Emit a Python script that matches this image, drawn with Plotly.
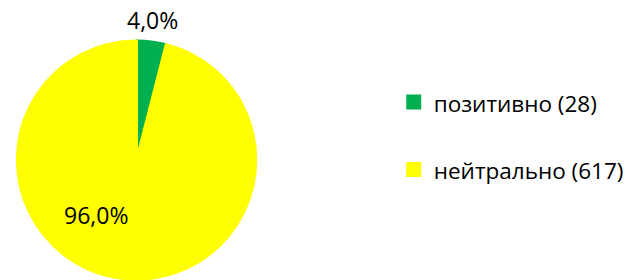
import plotly.graph_objects as go

categories = ["позитивно", "нейтрально"]
counts = [28, 617]
percents = [4.0, 96.0]
pct_labels = ["4,0%", "96,0%"]
colors = ["#00B050", "#FFFF00"]

FONT = "Open Sans"
TXT = 23
LEG_TXT = 22.5
W, H = 629, 280

legend_names = [
    f"<span style='font-size:{LEG_TXT}px'>{c} ({n})</span><br> " for c, n in zip(categories, counts)
]

fig = go.Figure()
fig.add_trace(go.Pie(
    labels=legend_names,
    values=percents,
    marker=dict(colors=colors, line=dict(color=colors, width=3)),
    sort=False,
    direction="clockwise",
    rotation=0,
    textinfo="none",
    hoverinfo="label+percent",
    domain=dict(x=[17.5 / W, 256.5 / W], y=[1 - 279.5 / H, 1 - 40.5 / H]),
))

fig.add_annotation(x=152.5 / W, y=1 - 20 / H, xref="paper", yref="paper",
                   xanchor="center", yanchor="middle",
                   text=pct_labels[0], showarrow=False,
                   font=dict(family=FONT, size=TXT, color="#000000"))
fig.add_annotation(x=96.5 / W, y=1 - 215 / H, xref="paper", yref="paper",
                   xanchor="center", yanchor="middle",
                   text=pct_labels[1], showarrow=False,
                   font=dict(family=FONT, size=TXT, color="#000000"))

fig.update_layout(
    width=W, height=H,
    margin=dict(l=0, r=0, t=0, b=0),
    paper_bgcolor="white",
    plot_bgcolor="white",
    font=dict(family=FONT, color="#000000"),
    showlegend=True,
    legend=dict(
        x=395 / W, xanchor="left",
        y=1 - 79.5 / H, yanchor="top",
        font=dict(family=FONT, size=24.8, color="#000000"),
        valign="top",
        itemwidth=30,
        bgcolor="rgba(0,0,0,0)",
    ),
)

fig.write_html(
    "out.html",
    config={"displayModeBar": False},
    post_script="document.body.style.margin='0';document.documentElement.style.overflow='hidden';",
)
